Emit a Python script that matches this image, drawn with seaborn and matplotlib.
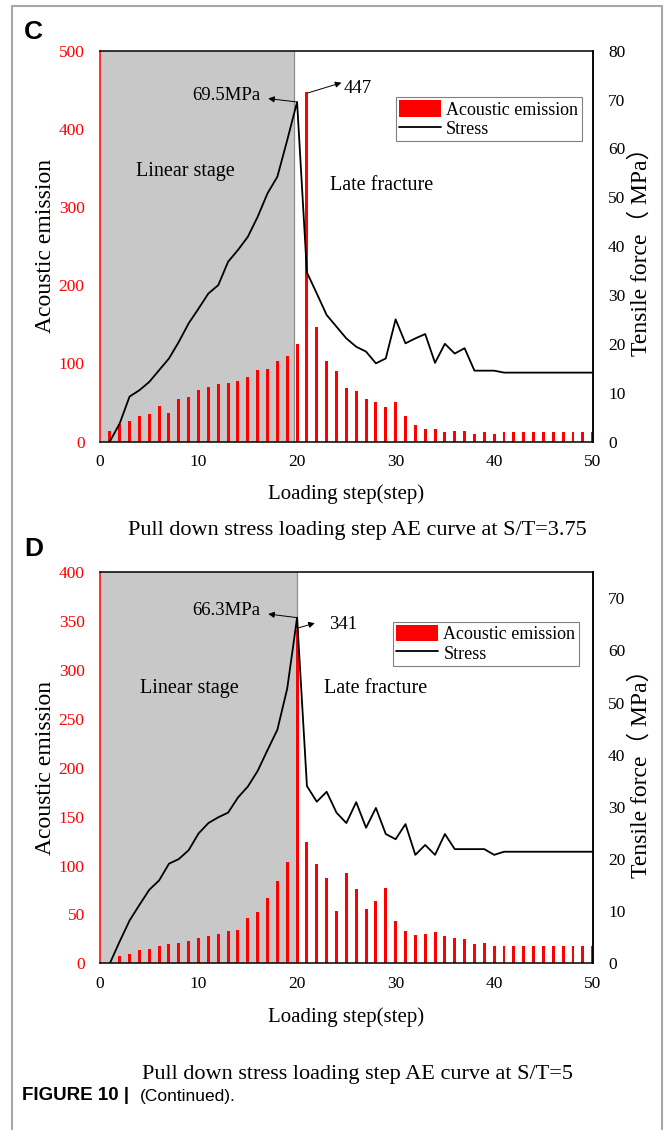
import numpy as np
import pandas as pd
import matplotlib
matplotlib.use("Agg")
import matplotlib.pyplot as plt
import seaborn as sns
from matplotlib.lines import Line2D
from matplotlib.patches import Patch

sns.set_style("white")
plt.rcParams['font.family'] = ['Liberation Serif', 'Noto Sans CJK SC', 'DejaVu Sans']
plt.rcParams['text.color'] = 'black'
plt.rcParams['axes.labelcolor'] = 'black'
plt.rcParams['xtick.color'] = 'black'
plt.rcParams['ytick.color'] = 'black'

# ---------------- data ----------------
steps = list(range(1, 51))
x_ticks = [0, 10, 20, 30, 40, 50]

# Panel C (S/T = 3.75)
ae_c = [13, 23, 26, 33, 35, 46, 36, 55, 57, 66,
        70, 73, 75, 78, 82, 92, 93, 103, 110, 125,
        447, 146, 103, 90, 68, 65, 55, 51, 44, 50,
        32, 21, 16, 16, 12, 14, 13, 9, 12, 10,
        12, 12, 12, 12, 12, 12, 12, 12, 12, 12]
stress_c = [0.0, 3.7, 9.2, 10.5, 12.2, 14.6, 17.0, 20.4, 24.2, 27.2,
            30.3, 32.0, 36.8, 39.2, 41.9, 46.0, 50.8, 54.2, 61.7, 69.5,
            34.6, 30.3, 25.9, 23.5, 21.1, 19.4, 18.4, 16.0, 17.0, 25.0,
            20.1, 21.1, 22.0, 16.1, 20.0, 18.0, 19.1, 14.5, 14.5, 14.5,
            14.1, 14.1, 14.1, 14.1, 14.1, 14.1, 14.1, 14.1, 14.1, 14.1]

# Panel D (S/T = 5)
ae_d = [0, 7, 10, 14, 15, 18, 20, 21, 23, 26,
        28, 30, 33, 34, 46, 52, 67, 84, 104, 341,
        124, 102, 87, 54, 92, 76, 56, 64, 77, 43,
        33, 29, 30, 32, 28, 26, 25, 20, 21, 18,
        18, 18, 18, 18, 18, 18, 18, 18, 18, 18]
stress_d = [0.0, 4.2, 8.2, 11.2, 14.1, 15.9, 19.1, 20.0, 21.7, 24.9,
            26.9, 28.0, 28.9, 31.8, 33.9, 36.9, 40.9, 44.8, 52.7, 66.3,
            34.0, 31.0, 32.9, 28.9, 26.9, 30.9, 26.0, 29.8, 24.8, 23.8,
            26.7, 20.8, 22.7, 20.8, 24.8, 21.9, 21.9, 21.9, 21.9, 20.8,
            21.4, 21.4, 21.4, 21.4, 21.4, 21.4, 21.4, 21.4, 21.4, 21.4]

panels = [
    dict(letter="C", ae=ae_c, stress=stress_c, ae_max=500, ae_ticks=[0, 100, 200, 300, 400, 500],
         s_max=80, s_ticks=[0, 10, 20, 30, 40, 50, 60, 70, 80], shade_end=19.7,
         peak_step=20, peak_label="69.5MPa", peak_stress=69.5,
         ae_label="447",
         caption="Pull down stress loading step AE curve at S/T=3.75"),
    dict(letter="D", ae=ae_d, stress=stress_d, ae_max=400, ae_ticks=[0, 50, 100, 150, 200, 250, 300, 350, 400],
         s_max=75, s_ticks=[0, 10, 20, 30, 40, 50, 60, 70], shade_end=20.0,
         peak_step=20, peak_label="66.3MPa", peak_stress=66.3,
         ae_label="341",
         caption="Pull down stress loading step AE curve at S/T=5"),
]

W, H = 665, 1130
fig = plt.figure(figsize=(W / 100, H / 100), dpi=100)

def fx(px):
    return px / W

def fy(py):
    return 1 - py / H

RED = "#ff0000"
axes_boxes = [(100, 50.7, 592.7, 441.5), (100, 572.3, 592.7, 963.3)]
label_pos = [dict(letter=(24, 32), xlabel=494, caption=531),
             dict(letter=(24, 549), xlabel=1017, caption=1074)]

for p, box, lp in zip(panels, axes_boxes, label_pos):
    x0, y0, x1, y1 = box
    ax = fig.add_axes([fx(x0), fy(y1), fx(x1) - fx(x0), (y1 - y0) / H])
    ax.axvspan(0, p["shade_end"], color="#c8c8c8", zorder=0, lw=0)
    ax.axvline(p["shade_end"], color="#8c8c8c", lw=0.9, zorder=0.5)
    df = pd.DataFrame({"step": steps, "ae": p["ae"]})
    sns.barplot(data=df, x="step", y="ae", native_scale=True, width=0.3,
                color=RED, saturation=1, edgecolor="none", linewidth=0, ax=ax, zorder=2)
    ax.set_xlim(0, 50)
    ax.set_ylim(0, p["ae_max"])
    ax.set_xticks(x_ticks)
    ax.set_xticklabels([str(t) for t in x_ticks])
    ax.set_yticks(p["ae_ticks"])
    ax.tick_params(axis="y", colors=RED, labelsize=12.5, length=0, pad=11)
    ax.tick_params(axis="x", labelsize=12.5, length=0, pad=9, colors="black")
    for sp in ax.spines.values():
        sp.set_visible(True)
        sp.set_color("black")
        sp.set_linewidth(1.1)
    ax.spines["left"].set_color(RED)
    ax.set_xlabel("")
    ax.set_ylabel("Acoustic emission", fontsize=17, labelpad=2)

    ax2 = ax.twinx()
    dfs = pd.DataFrame({"step": steps, "stress": p["stress"]})
    sns.lineplot(data=dfs, x="step", y="stress", color="black", lw=1.3, ax=ax2)
    ax2.set_ylim(0, p["s_max"])
    ax2.set_yticks(p["s_ticks"])
    ax2.tick_params(axis="y", labelsize=12.5, length=0, pad=11, colors="black")
    ax2.set_xlim(0, 50)
    ax2.set_xlabel("")
    for sp in ax2.spines.values():
        sp.set_visible(False)
    ax2.spines["right"].set_visible(True)
    ax2.spines["right"].set_color("black")
    ax2.spines["right"].set_linewidth(1.1)
    ax2.set_ylabel("Tensile force（ MPa）", fontsize=17, labelpad=3)

    # annotations
    arrow = dict(arrowstyle="-|>", color="black", lw=0.7, mutation_scale=9, shrinkA=0, shrinkB=0)
    ax2.annotate("", xy=(17.07, p["peak_stress"] + 0.7), xytext=(p["peak_step"], p["peak_stress"]),
                 arrowprops=arrow)
    ax2.text(16.3, p["peak_stress"] + 1.3, p["peak_label"], ha="right", va="center", fontsize=13.5)
    if p["letter"] == "C":
        ax.annotate("", xy=(24.5, 459), xytext=(21.1, 446), arrowprops=arrow)
        ax.text(24.7, 452, p["ae_label"], ha="left", va="center", fontsize=13.5)
        ax.text(8.7, 345, "Linear stage", ha="center", va="center", fontsize=14.5)
        ax.text(28.6, 327, "Late fracture", ha="center", va="center", fontsize=14.5)
        leg_anchor = (0.978, 0.882)
    else:
        ax.annotate("", xy=(21.8, 348), xytext=(20.1, 343), arrowprops=arrow)
        ax.text(23.2, 347, p["ae_label"], ha="left", va="center", fontsize=13.5)
        ax.text(9.1, 281, "Linear stage", ha="center", va="center", fontsize=14.5)
        ax.text(28.0, 281, "Late fracture", ha="center", va="center", fontsize=14.5)
        leg_anchor = (0.972, 0.874)

    handles = [Patch(facecolor=RED, edgecolor="none"), Line2D([0], [0], color="black", lw=1.3)]
    leg = ax2.legend(handles, ["Acoustic emission", "Stress"], loc="upper right",
                     bbox_to_anchor=leg_anchor, fontsize=13, frameon=True, fancybox=False,
                     edgecolor="#808080", framealpha=1, borderpad=0.2, labelspacing=0.05,
                     handlelength=2.3, handleheight=1.0, handletextpad=0.3, borderaxespad=0)
    leg.get_frame().set_linewidth(0.8)

    # panel letter, x label, caption
    fig.text(fx(lp["letter"][0]), fy(lp["letter"][1]), p["letter"], fontsize=19, fontweight="bold",
             family=["Liberation Sans", "DejaVu Sans"], ha="left", va="center")
    fig.text(fx(346), fy(lp["xlabel"]), "Loading step(step)", fontsize=15, ha="center", va="center")
    fig.text(fx(357), fy(lp["caption"]), p["caption"], fontsize=16, ha="center", va="center")

fig.text(fx(22), fy(1096), "FIGURE 10 |", fontsize=13.5, fontweight="bold",
         family=["Liberation Sans", "DejaVu Sans"], ha="left", va="center")
fig.text(fx(140), fy(1096), "(Continued).", fontsize=12.5,
         family=["Liberation Sans", "DejaVu Sans"], ha="left", va="center")

# outer frame
frame_kw = dict(color="#a8a8a8", lw=1.5, transform=fig.transFigure, figure=fig)
fig.lines.append(Line2D([fx(12), fx(12)], [0, fy(6)], **frame_kw))
fig.lines.append(Line2D([fx(662), fx(662)], [0, fy(6)], **frame_kw))
fig.lines.append(Line2D([fx(12), fx(662)], [fy(6), fy(6)], **frame_kw))

fig.savefig("out.png", dpi=100)
